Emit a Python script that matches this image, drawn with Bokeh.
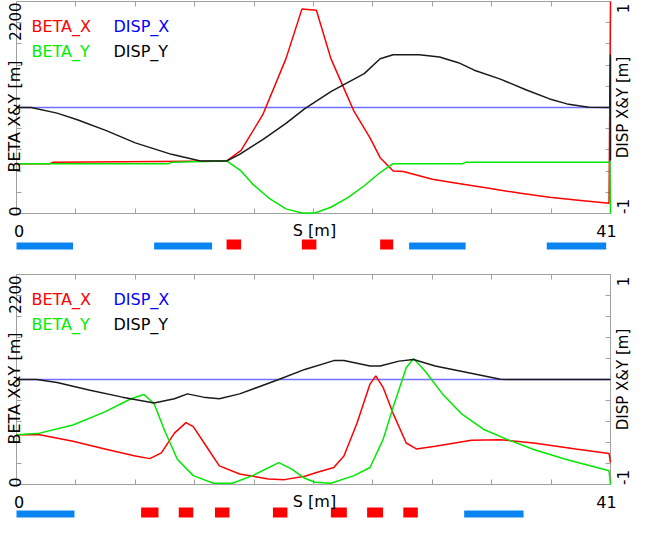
import math
from bokeh.plotting import figure
from bokeh.models import (Range1d, LinearAxis, FixedTicker, Label,
                          CustomJSTickFormatter)
from bokeh.layouts import column
from bokeh.embed import file_html
from bokeh.resources import INLINE

# ---------------- data ----------------
S_MAX = 41.0
BETA_MAX = 2200
X_TICKS = [round(i * 4.1, 2) for i in range(11)]
Y_TICKS = [i * 220 for i in range(11)]

# top panel
top_bx_s = [0, 2.3, 2.5, 14.5, 15.5, 17.0, 18.6, 19.7, 20.7, 21.7, 22.6, 23.3, 24.4,
            25.1, 26.0, 26.7, 28.7, 30.5, 32.5, 34.8, 36.8, 38.6, 40.9, 41.0]
top_bx = [517, 517, 531, 545, 655, 1025, 1607, 2121, 2110, 1607, 1298, 1059, 784,
          579, 442, 435, 356, 312, 264, 209, 168, 141, 106, 2200]
top_by_s = [0, 10.5, 10.7, 14.5, 15.5, 16.3, 17.5, 18.6, 19.7, 20.6, 21.7, 22.9, 24.0,
            25.1, 26.0, 30.8, 31.0, 40.95, 41.0]
top_by = [517, 517, 531, 545, 442, 305, 151, 48, 5, 5, 65, 168, 288,
          425, 517, 517, 531, 531, 0]
top_dx_s = [0, 41.0]
top_dx = [0.0, 0.0]
top_dy_s = [0, 1.0, 2.8, 4.2, 6.2, 8.2, 10.7, 12.7, 14.5, 15.4, 17.0, 18.6, 19.9, 21.7,
            24.0, 25.1, 26.0, 27.8, 29.2, 30.5, 31.6, 33.4, 35.2, 36.8, 38.0, 39.5,
            40.95, 41.0, 41.0]
top_dy = [0, 0, -0.053, -0.115, -0.218, -0.334, -0.442, -0.505, -0.505, -0.442, -0.302,
          -0.15, -0.01, 0.15, 0.32, 0.46, 0.498, 0.498, 0.477, 0.423, 0.352, 0.268,
          0.165, 0.081, 0.034, 0.003, 0.0, 0.5, -0.5]
top_blue_start = [0.0, 9.5, 27.1, 36.6]
top_blue_end = [3.9, 13.5, 31.0, 40.7]
top_red_start = [14.5, 19.7, 25.1]
top_red_end = [15.5, 20.7, 26.0]

# bottom panel
bot_bx_s = [0, 1.6, 3.9, 6.1, 8.2, 9.2, 10.0, 10.9, 11.7, 12.2, 13.1, 14.0, 15.4, 17.4,
            18.5, 19.9, 20.6, 21.9, 22.6, 23.5, 24.4, 24.8, 25.3, 26.0, 26.9, 27.6,
            28.9, 31.4, 33.4, 35.7, 38.6, 40.9, 41.0]
bot_bx = [521, 521, 452, 373, 298, 271, 332, 538, 648, 607, 401, 195, 110, 58,
          51, 86, 120, 178, 298, 641, 1052, 1138, 1018, 743, 435, 373,
          401, 463, 470, 435, 373, 326, 230]
bot_by_s = [0, 1.6, 3.9, 6.1, 7.9, 8.8, 9.5, 10.2, 11.1, 12.2, 13.6, 14.9, 16.3, 18.1,
            19.0, 19.9, 20.6, 21.7, 23.3, 24.4, 25.3, 26.0, 26.9, 27.4, 28.2, 29.4,
            30.7, 32.3, 33.9, 35.7, 37.9, 40.9, 41.0]
bot_by = [521, 538, 624, 761, 898, 943, 846, 573, 264, 93, 13, 13, 93, 229,
          161, 65, 24, 13, 93, 178, 470, 812, 1223, 1319, 1189, 949,
          743, 573, 470, 366, 264, 144, 0]
bot_dx_s = [0, 41.0]
bot_dx = [0.0, 0.0]
bot_dy_s = [0, 1.4, 2.8, 5.0, 7.3, 9.5, 10.9, 11.8, 12.9, 14.0, 15.4, 18.1, 19.9, 21.9,
            22.6, 24.4, 25.1, 26.4, 27.4, 28.9, 31.2, 33.4, 33.9, 41.0]
bot_dy = [0, 0, -0.028, -0.10, -0.168, -0.224, -0.184, -0.137, -0.168, -0.184, -0.137,
          0.0, 0.096, 0.18, 0.18, 0.128, 0.128, 0.175, 0.19, 0.128, 0.065, 0.003, 0.0, 0.0]
bot_blue_start = [0.0, 30.9]
bot_blue_end = [4.0, 35.0]
bot_red_start = [8.6, 11.2, 13.7, 17.7, 21.7, 24.2, 26.7]
bot_red_end = [9.8, 12.2, 14.7, 18.7, 22.8, 25.3, 27.7]

LEGEND = [("BETA_X", "#ff0000"), ("DISP_X", "#0000ff"),
          ("BETA_Y", "#00ee00"), ("DISP_Y", "#000000")]

# ---------------- style ----------------
FONT = "DejaVu Sans"
C_RED = "#ff0000"
C_GREEN = "#00e800"
C_BLUE_LINE = "#7070ff"
C_BLACK = "#1a1a1a"
C_FRAME = "#a0a0a0"
C_MAG_BLUE = "#0a84f0"
C_MAG_RED = "#ff0000"
W = 631
L, R = 16, 610           # inner plot box, canvas px
FW = R - L


def make_panel(H, T, B, strip, bx_s, bx, by_s, by, dx_s, dx, dy_s, dy,
               blue_s, blue_e, red_s, red_e):
    FH = B - T
    xr = Range1d((0 - L) * S_MAX / FW, (W - L) * S_MAX / FW)
    yr = Range1d((B - H) * BETA_MAX / FH, B * BETA_MAX / FH)
    p = figure(width=W, height=H, output_backend="svg", toolbar_location=None,
               title=None, x_range=xr, y_range=yr, tools="",
               min_border_left=0, min_border_right=0, min_border_top=0,
               min_border_bottom=0)
    p.extra_y_ranges = {"disp": Range1d(-1 + (B - H) * 2 / FH, -1 + B * 2 / FH),
                        "py": Range1d(H, 0)}
    p.extra_x_ranges = {"px": Range1d(0, W)}
    p.background_fill_color = "white"
    p.border_fill_color = "white"
    p.outline_line_color = None
    p.grid.visible = False

    p.xaxis[0].fixed_location = 0
    p.yaxis[0].fixed_location = 0
    p.add_layout(LinearAxis(fixed_location=BETA_MAX), "above")
    p.add_layout(LinearAxis(fixed_location=S_MAX), "right")
    for ax in p.axis:
        ax.level = "underlay"
        ax.axis_line_color = C_FRAME
        ax.axis_line_width = 1
        ax.major_tick_in = 5
        ax.major_tick_out = 0
        ax.minor_tick_line_color = None
        ax.major_tick_line_color = C_FRAME
        ax.major_tick_line_width = 1
        ax.major_label_text_font_size = "0px"
        ax.major_label_standoff = 0
        ax.formatter = CustomJSTickFormatter(code="return ''")
    for ax in p.xaxis:
        ax.ticker = FixedTicker(ticks=X_TICKS, minor_ticks=[])
        ax.bounds = (0, S_MAX)
    for ax in p.yaxis:
        ax.ticker = FixedTicker(ticks=Y_TICKS, minor_ticks=[])
        ax.bounds = (0, BETA_MAX)

    p.line(dx_s, dx, line_color=C_BLUE_LINE, line_width=1.4, y_range_name="disp")
    p.line(bx_s, bx, line_color=C_RED, line_width=1.5)
    p.line(by_s, by, line_color=C_GREEN, line_width=1.5)
    p.line(dy_s, dy, line_color=C_BLACK, line_width=1.5, y_range_name="disp")

    # element strip below the plot box
    red_t, red_b, blue_t, blue_b = strip
    p.quad(left=blue_s, right=blue_e, bottom=blue_b, top=blue_t,
           fill_color=C_MAG_BLUE, line_color=None, y_range_name="py")
    p.quad(left=red_s, right=red_e, bottom=red_b, top=red_t,
           fill_color=C_MAG_RED, line_color=None, y_range_name="py")

    def lab(text, cx, cy, color="black", size="16px", align="left",
            baseline="alphabetic", angle=0.0):
        p.add_layout(Label(x=cx, y=cy, x_range_name="px", y_range_name="py",
                           text=text, text_color=color,
                           text_font=FONT, text_font_size=size, text_align=align,
                           text_baseline=baseline, angle=angle))

    # legend
    lab(LEGEND[0][0], L + 15, T + 25, LEGEND[0][1])
    lab(LEGEND[1][0], L + 97, T + 25, LEGEND[1][1])
    lab(LEGEND[2][0], L + 15, T + 49.5, LEGEND[2][1])
    lab(LEGEND[3][0], L + 97, T + 49.5, LEGEND[3][1])
    # left axis
    up = math.pi / 2
    lab("BETA X&Y [m]", 14, (T + B) / 2 + 9, align="center", angle=up)
    lab(str(BETA_MAX), 14, T + 1, align="right", angle=up, size="15px")
    lab("0", 14, B - 2, align="center", angle=up)
    # bottom axis
    lab("0", L + 2.5, B + 17, align="center")
    lab("S [m]", (L + R) / 2 + 1, B + 17, align="center")
    lab(str(int(S_MAX)), R - 4, B + 17, align="center")
    # right axis
    lab("1", R + 12, T + 7, align="center", angle=up, size="15px")
    lab("-1", R + 12, B - 7, align="center", angle=up, size="15px")
    lab("DISP X&Y [m]", R + 12, (T + B) / 2, align="center", angle=up, size="15px")
    return p


p1 = make_panel(252, 1, 213, (239, 249, 242, 249),
                top_bx_s, top_bx, top_by_s, top_by, top_dx_s, top_dx,
                top_dy_s, top_dy, top_blue_start, top_blue_end,
                top_red_start, top_red_end)
p2 = make_panel(266, 22, 232, (255, 265, 258, 265),
                bot_bx_s, bot_bx, bot_by_s, bot_by, bot_dx_s, bot_dx,
                bot_dy_s, bot_dy, bot_blue_start, bot_blue_end,
                bot_red_start, bot_red_end)

layout = column(p1, p2, spacing=0)
open("out.html", "w").write(file_html(layout, INLINE))
